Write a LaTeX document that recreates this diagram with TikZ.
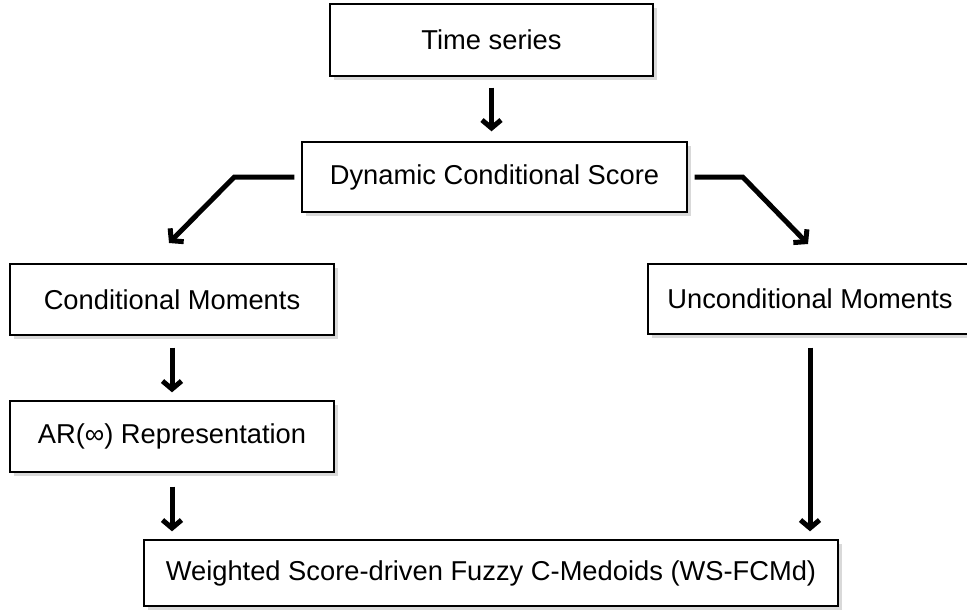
\documentclass[tikz,border=0pt]{standalone}
\usepackage{fontspec}
\setmainfont{Liberation Sans}
\usetikzlibrary{arrows.meta,shadows}

\begin{document}
\begin{tikzpicture}[
    x=1pt, y=-1pt,
    every node/.style={font=\fontsize{27.3}{31}\selectfont},
    block/.style={rectangle, draw, line width=1.4pt, fill=white, inner sep=0pt,
        general shadow={fill=black!15, shadow xshift=4pt, shadow yshift=-4pt}},
    arrow/.style={-{Straight Barb[length=8pt,width=19pt]}, line width=5pt}
]
\useasboundingbox (0,0) rectangle (967,611);

%% ---- Boxes ----
\node[block, minimum width=323pt, minimum height=72pt] (ts) at (491.5,40) {Time series};
\node[block, minimum width=385pt, minimum height=70pt] (dcs) at (494.5,177) {Dynamic Conditional Score};
\node[block, minimum width=324pt, minimum height=71pt] (cm) at (172,299.5) {Conditional Moments};
\node[block, minimum width=324pt, minimum height=70pt] (um) at (810,299) {Unconditional Moments};
\node[block, minimum width=324pt, minimum height=71pt] (ar) at (172,436.5) {AR(∞) Representation};
\node[block, minimum width=694pt, minimum height=66pt] (ws) at (491,573) {Weighted Score-driven Fuzzy C-Medoids (WS-FCMd)};

%% ---- Ends of the slanted arrows ----
\coordinate (cmin) at (169,243);
\coordinate (umin) at (808,244);

%% ---- Arrows ----
\draw[arrow, shorten <=11pt, shorten >=10pt] (ts.south) -- (ts.south |- dcs.north);
\draw[arrow] (dcs.west) ++(-7,0) -- ++(-60,0) -- (cmin);
\draw[arrow] (dcs.east) ++(7,0) -- ++(48,0) -- (umin);
\draw[arrow, shorten <=12pt, shorten >=8pt] (cm.south) -- (ar.north);
\draw[arrow, shorten <=14pt, shorten >=8pt] (ar.south) -- (ar.south |- ws.north);
\draw[arrow, shorten <=13pt, shorten >=8pt] (um.south) -- (um.south |- ws.north);

\end{tikzpicture}
\end{document}
